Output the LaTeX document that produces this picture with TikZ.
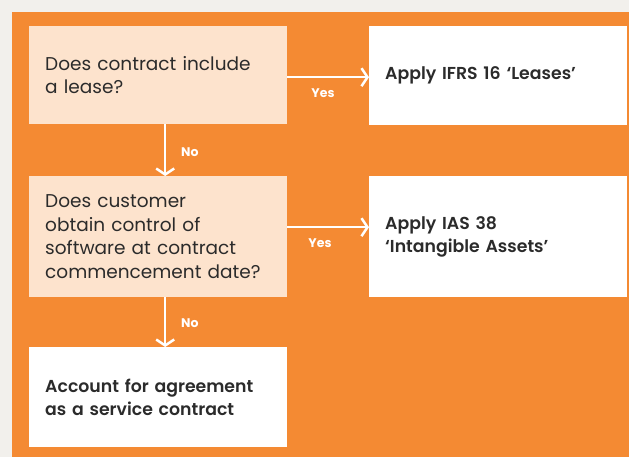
\documentclass[tikz,border=0pt]{standalone}
\usepackage{fontspec}
\setmainfont{Poppins}
\newfontfamily\semib{Poppins SemiBold}
\usetikzlibrary{arrows.meta}
\definecolor{bgray}{HTML}{F2F0EC}
\definecolor{orng}{HTML}{F48A33}
\definecolor{peach}{HTML}{FDE3CD}
\definecolor{ink}{HTML}{2B2B2B}
\begin{document}
\begin{tikzpicture}[x=1pt,y=-1pt,
 box/.style={rectangle, anchor=north west, minimum width=258pt, inner xsep=16pt, inner ysep=0pt, text width=226pt, align=left, font=\fontsize{18.5}{23.5}\selectfont, text=ink},
 qbox/.style={box, fill=peach},
 abox/.style={box, fill=white, font=\fontsize{17.3}{23.5}\selectfont\semib},
 flow/.style={draw=white, line width=2.5pt, -{Straight Barb[length=6pt,width=18pt,line width=2.5pt]}},
 lbl/.style={text=white, font=\fontsize{12.5}{15}\selectfont\bfseries, inner sep=0pt}]
\useasboundingbox (0,0) rectangle (629,457);
\fill[bgray] (0,0) rectangle (629,457);
\fill[orng] (12,12) rectangle (629,457);
\node[qbox, minimum height=98pt] (q1) at (29,26) {Does contract include\\a lease?};
\node[abox, minimum height=99pt] (a1) at (369,26) {Apply IFRS 16 ‘Leases’};
\node[qbox, minimum height=121pt] (q2) at (29,176) {Does customer\\obtain control of\\software at contract\\commencement date?};
\node[abox, minimum height=121pt] (a2) at (369,176) {Apply IAS 38\\‘Intangible Assets’};
\node[abox, minimum height=100pt] (r) at (29,347) {Account for agreement\\as a service contract};
\draw[flow] ([yshift=-2pt]q1.east) -- ([yshift=-2pt]q1.east -| a1.west);
\draw[flow] ([yshift=9.5pt]q2.east) -- ([yshift=9.5pt]q2.east -| a2.west);
\draw[flow] ([xshift=7pt]q1.south) -- ([xshift=7pt]q1.south |- q2.north);
\draw[flow] ([xshift=7pt]q2.south) -- ([xshift=7pt]q2.south |- r.north);
\node[lbl] (y1) at (323,93) {Yes};
\node[lbl] (y2) at (320,243) {Yes};
\node[lbl, anchor=west] (n1) at (181,152) {No};
\node[lbl, anchor=west] (n2) at (181,323) {No};
\end{tikzpicture}
\end{document}
